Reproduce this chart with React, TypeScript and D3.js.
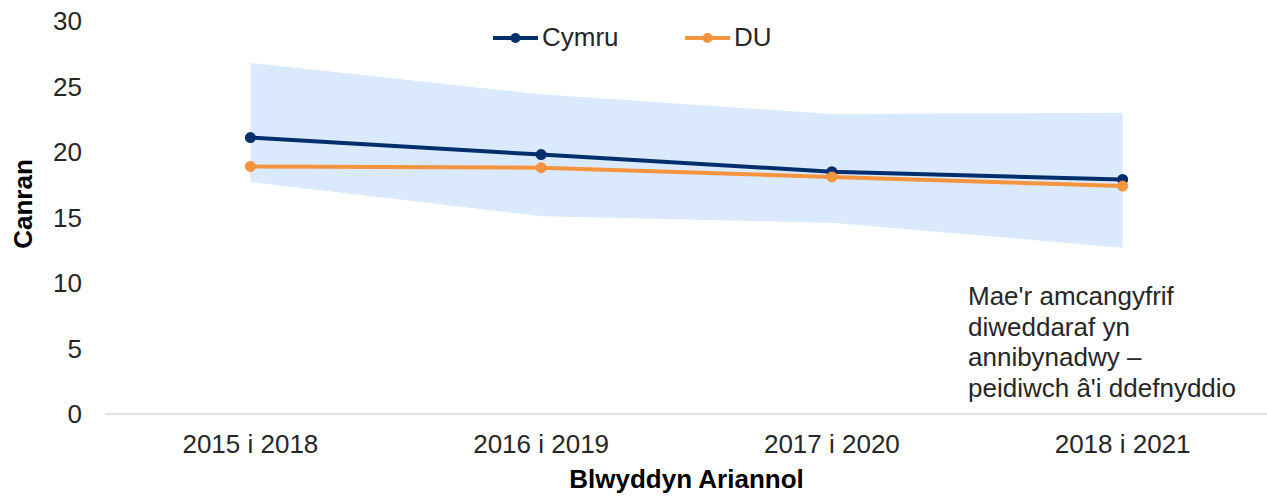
import React from 'react';
import { scaleBand, scaleLinear, line, area } from 'd3';

const categories = ['2015 i 2018', '2016 i 2019', '2017 i 2020', '2018 i 2021'];
const cymru = [21.1, 19.8, 18.5, 17.9];
const du = [18.9, 18.8, 18.1, 17.4];
const ciUpper = [26.8, 24.4, 22.9, 23.0];
const ciLower = [17.7, 15.1, 14.6, 12.7];
const yTicks = [0, 5, 10, 15, 20, 25, 30];
const noteLines = [
    "Mae'r amcangyfrif",
    'diweddaraf yn',
    'annibynadwy –',
    "peidiwch â'i ddefnyddio",
];

const colors = { cymru: '#002f6c', du: '#f5943f', band: '#dbe9fc', axis: '#d9d9d9', text: '#262626' };
const font = '"Liberation Sans", Arial, sans-serif';

const dims = {
    width: 1267,
    height: 500,
    left: 105,
    right: 1268,
    top: 21,
    bottom: 414,
};

const App: React.FC = () => {
    const xScale = scaleBand<string>()
        .domain(categories)
        .range([dims.left, dims.right]);
    const yScale = scaleLinear()
        .domain([0, 30])
        .range([dims.bottom, dims.top]);

    const cx = (i: number) => (xScale(categories[i]) as number) + xScale.bandwidth() / 2;

    const lineGen = line<number>()
        .x((_, i) => cx(i))
        .y(d => yScale(d));

    const bandGen = area<number>()
        .x((_, i) => cx(i))
        .y0((_, i) => yScale(ciLower[i]))
        .y1(d => yScale(d));

    const series = [
        { name: 'Cymru', values: cymru, color: colors.cymru, lx: 493 },
        { name: 'DU', values: du, color: colors.du, lx: 685 },
    ];

    return (
        <svg width={dims.width} height={dims.height}
            style={{ position: 'absolute', left: 0, top: 0, fontFamily: font }}>
            <path d={bandGen(ciUpper) || ''} fill={colors.band} />

            <line x1={dims.left} x2={dims.right} y1={dims.bottom} y2={dims.bottom}
                stroke={colors.axis} strokeWidth={1.5} />

            {yTicks.map(t => (
                <text key={t} x={82} y={yScale(t)} dy="0.35em" textAnchor="end"
                    fontSize={26} fill={colors.text}>{t}</text>
            ))}

            {categories.map((c, i) => (
                <text key={c} x={cx(i)} y={453} textAnchor="middle"
                    fontSize={26} fill={colors.text}>{c}</text>
            ))}

            {series.map(s => (
                <g key={s.name}>
                    <path d={lineGen(s.values) || ''} fill="none" stroke={s.color}
                        strokeWidth={4} strokeLinejoin="round" />
                    {s.values.map((v, i) => (
                        <circle key={i} cx={cx(i)} cy={yScale(v)} r={5.5} fill={s.color} />
                    ))}
                </g>
            ))}

            {/* legend */}
            {series.map(s => (
                <g key={'lg' + s.name}>
                    <line x1={s.lx} x2={s.lx + 45} y1={38} y2={38} stroke={s.color}
                        strokeWidth={4} />
                    <circle cx={s.lx + 22.5} cy={38} r={5} fill={s.color} />
                    <text x={s.lx + 49} y={46} fontSize={26} fill={colors.text}>{s.name}</text>
                </g>
            ))}

            <text transform={`translate(32, 204) rotate(-90)`} textAnchor="middle"
                fontSize={26} fontWeight="bold" fill="#000">Canran</text>
            <text x={(dims.left + dims.right) / 2} y={488} textAnchor="middle"
                fontSize={26} fontWeight="bold" fill="#000">Blwyddyn Ariannol</text>

            <text fontSize={26} fill={colors.text}>
                {noteLines.map((l, i) => (
                    <tspan key={i} x={968} y={305 + i * 30.5}>{l}</tspan>
                ))}
            </text>
        </svg>
    );
};

export default App;
